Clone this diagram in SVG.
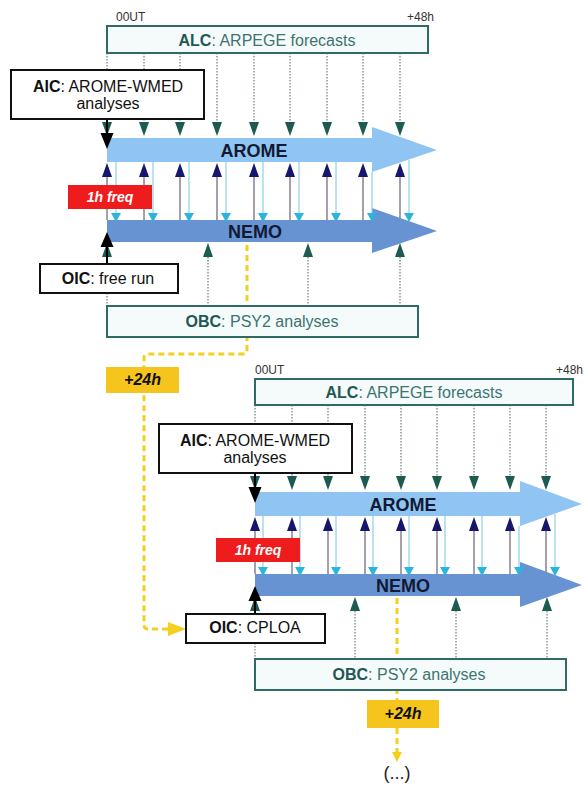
<svg xmlns="http://www.w3.org/2000/svg" width="584" height="787" viewBox="0 0 584 787">
<style>
text{font-family:"Liberation Sans",Arial,Helvetica,sans-serif}
.bt{fill:#f5fbfa;stroke:#2f6a64;stroke-width:2}
.bb{fill:#fff;stroke:#111;stroke-width:2}
.t16{font-size:16px}
.tt{fill:#3b7470}
.tb{font-weight:bold}
.tk{fill:#111}
.big{font-size:18px;font-weight:bold;fill:#111a33;text-anchor:middle}
.arome{fill:#90c4f2}
.nemo{fill:#6893d2}
.dot{stroke:#4b6460;stroke-width:1;stroke-dasharray:1.5 1.5;fill:none}
.gray{stroke:#6d6276;stroke-width:1.2;fill:none}
.cy{stroke:#8ccfea;stroke-width:1.2;fill:none}
.teal{fill:#1d5a50}
.navy{fill:#16166e}
.cyan{fill:#2bb4de}
.blk{fill:#000}
.bl{stroke:#000;stroke-width:2;fill:none}
.yel{stroke:#f3cf1f;stroke-width:3;stroke-dasharray:6 4;fill:none}
.yfill{fill:#f3cf1f}
.red{fill:#ee1c1c}
.ybox{fill:#f6c51d}
.small{font-size:12px;fill:#333}
.freq{font-size:14px;font-weight:bold;font-style:italic;fill:#fff;text-anchor:middle}
.plus{font-size:16px;font-weight:bold;font-style:italic;fill:#111;text-anchor:middle}
</style>
<defs>
<path id="hd" d="M-5,-14L5,-14L0,0Z"/>
<path id="hu" d="M-5,14L5,14L0,0Z"/>
<path id="hc" d="M-5,-9L5,-9L0,0Z"/>
</defs>

<!-- ===== Section 1 ===== -->
<g id="section1">
<g id="arome1"><path class="arome" d="M107,138H372V127L437,150L372,172V162H107Z"/><text class="big" x="254" y="157">AROME</text></g>
<g id="nemo1"><path class="nemo" d="M107,220H372V208L437,231L372,253V242H107Z"/><text class="big" x="255" y="238">NEMO</text></g>
<g id="alc1"><rect class="bt" x="107" y="26" width="321" height="27"/><text class="t16 tt" x="267" y="46" text-anchor="middle"><tspan class="tb" fill="#1f5853">ALC</tspan>: ARPEGE forecasts</text></g>

<g id="connectors1">
<path class="dot" d="M107,53V122M144,53V122M180,53V122M217,53V122M254,53V122M290,53V122M327,53V122M363,53V122M400,53V122"/>
<g class="teal"><use href="#hd" x="107" y="136"/><use href="#hd" x="144" y="136"/><use href="#hd" x="180" y="136"/><use href="#hd" x="217" y="136"/><use href="#hd" x="254" y="136"/><use href="#hd" x="290" y="136"/><use href="#hd" x="327" y="136"/><use href="#hd" x="363" y="136"/><use href="#hd" x="400" y="136"/></g>
<path class="gray" d="M107,177V220M144,177V220M180,177V220M217,177V220M254,177V220M290,177V220M327,177V220M363,177V220M400,177V218"/>
<path class="cy" d="M116,162V213M153,162V213M189,162V213M226,162V213M263,162V213M299,162V213M336,162V213M372,172V213M409,160V213"/>
<g class="navy"><use href="#hu" x="107" y="163"/><use href="#hu" x="144" y="163"/><use href="#hu" x="180" y="163"/><use href="#hu" x="217" y="163"/><use href="#hu" x="254" y="163"/><use href="#hu" x="290" y="163"/><use href="#hu" x="327" y="163"/><use href="#hu" x="363" y="163"/><use href="#hu" x="400" y="163"/></g>
<g class="cyan"><use href="#hc" x="116" y="222"/><use href="#hc" x="153" y="222"/><use href="#hc" x="189" y="222"/><use href="#hc" x="226" y="222"/><use href="#hc" x="263" y="222"/><use href="#hc" x="299" y="222"/><use href="#hc" x="336" y="222"/><use href="#hc" x="372" y="222"/><use href="#hc" x="409" y="222"/></g>
<path class="dot" d="M208,257V306M308,257V306M400,257V306M107,293V306"/>
<g class="teal"><use href="#hu" x="107" y="243"/><use href="#hu" x="208" y="243"/><use href="#hu" x="308" y="243"/><use href="#hu" x="400" y="243"/></g>
<path class="bl" d="M107,119V134M107,264V246"/>
<path class="blk" d="M100.5,133L113.5,133L107,149ZM100.5,247L113.5,247L107,232Z"/>
<path class="yel" d="M247,245V350Q247,354 243,354H148Q144,354 144,358V625Q144,629 148,629H168"/>
<path class="yfill" d="M168,622L186,629L168,636Z"/>
</g>

<g id="aic1"><rect class="bb" x="11" y="70" width="193" height="49"/><text class="t16 tk" x="108" y="92" text-anchor="middle"><tspan class="tb">AIC</tspan>: AROME-WMED</text><text class="t16 tk" x="108" y="109" text-anchor="middle">analyses</text></g>
<g id="freq1"><rect class="red" x="68" y="185" width="84" height="24"/><text class="freq" x="110" y="202">1h freq</text></g>
<g id="oic1"><rect class="bb" x="40" y="264" width="138" height="29"/><text class="t16 tk" x="108" y="284" text-anchor="middle"><tspan class="tb">OIC</tspan>: free run</text></g>
<g id="obc1"><rect class="bt" x="107" y="306" width="311" height="31"/><text class="t16 tt" x="262" y="327" text-anchor="middle"><tspan class="tb" fill="#1f5853">OBC</tspan>: PSY2 analyses</text></g>
<g id="delay1"><rect class="ybox" x="106" y="367" width="73" height="26"/><text class="plus" x="142.5" y="385">+24h</text></g>
<g id="t00a"><text class="small" x="116" y="21">00UT</text></g>
<g id="t48a"><text class="small" x="434" y="21" text-anchor="end">+48h</text></g>
</g>

<!-- ===== Section 2 ===== -->
<g id="section2" transform="translate(148,354)">
<g id="arome2"><path class="arome" d="M107,138H372V127L434,150L372,172V162H107Z"/><text class="big" x="255" y="157">AROME</text></g>
<g id="nemo2"><path class="nemo" d="M107,220H372V208L434,231L372,253V242H107Z"/><text class="big" x="255" y="238">NEMO</text></g>
<g id="alc2"><rect class="bt" x="107" y="25" width="318" height="26"/><text class="t16 tt" x="266" y="44" text-anchor="middle"><tspan class="tb" fill="#1f5853">ALC</tspan>: ARPEGE forecasts</text></g>

<g id="connectors2">
<path class="dot" d="M107,51V122M144,51V122M180,51V122M217,51V122M253,51V122M289,51V122M326,51V122M362,51V122M398,51V122"/>
<g class="teal"><use href="#hd" x="107" y="136"/><use href="#hd" x="144" y="136"/><use href="#hd" x="180" y="136"/><use href="#hd" x="217" y="136"/><use href="#hd" x="253" y="136"/><use href="#hd" x="289" y="136"/><use href="#hd" x="326" y="136"/><use href="#hd" x="362" y="136"/><use href="#hd" x="398" y="136"/></g>
<path class="gray" d="M107,177V220M144,177V220M180,177V220M217,177V220M253,177V220M289,177V220M326,177V220M362,177V220M398,177V218"/>
<path class="cy" d="M115,162V213M152,162V213M188,162V213M225,162V213M261,162V213M297,162V213M334,162V213M371,172V213M407,160V213"/>
<g class="navy"><use href="#hu" x="107" y="163"/><use href="#hu" x="144" y="163"/><use href="#hu" x="180" y="163"/><use href="#hu" x="217" y="163"/><use href="#hu" x="253" y="163"/><use href="#hu" x="289" y="163"/><use href="#hu" x="326" y="163"/><use href="#hu" x="362" y="163"/><use href="#hu" x="398" y="163"/></g>
<g class="cyan"><use href="#hc" x="115" y="222"/><use href="#hc" x="152" y="222"/><use href="#hc" x="188" y="222"/><use href="#hc" x="225" y="222"/><use href="#hc" x="261" y="222"/><use href="#hc" x="297" y="222"/><use href="#hc" x="334" y="222"/><use href="#hc" x="371" y="222"/><use href="#hc" x="407" y="222"/></g>
<path class="dot" d="M207,257V306M308,257V306M399,257V306M107,289V306"/>
<g class="teal"><use href="#hu" x="107" y="243"/><use href="#hu" x="207" y="243"/><use href="#hu" x="308" y="243"/><use href="#hu" x="399" y="243"/></g>
<path class="bl" d="M107,119V134M107,260V246"/>
<path class="blk" d="M100.5,133L113.5,133L107,149ZM100.5,247L113.5,247L107,232Z"/>
<path class="yel" d="M249,244V398"/>
<path class="yfill" d="M244,398L254,398L249,408Z"/>
</g>

<g id="aic2"><rect class="bb" x="11" y="70" width="193" height="49"/><text class="t16 tk" x="107" y="92" text-anchor="middle"><tspan class="tb">AIC</tspan>: AROME-WMED</text><text class="t16 tk" x="107" y="109" text-anchor="middle">analyses</text></g>
<g id="freq2"><rect class="red" x="68" y="184" width="84" height="24"/><text class="freq" x="110" y="201">1h freq</text></g>
<g id="oic2"><rect class="bb" x="38" y="260" width="139" height="29"/><text class="t16 tk" x="107" y="279" text-anchor="middle"><tspan class="tb">OIC</tspan>: CPLOA</text></g>
<g id="obc2"><rect class="bt" x="107" y="305" width="311" height="31"/><text class="t16 tt" x="261" y="326" text-anchor="middle"><tspan class="tb" fill="#1f5853">OBC</tspan>: PSY2 analyses</text></g>
<g id="delay2"><rect class="ybox" x="219" y="346" width="72" height="28"/><text class="plus" x="255" y="365">+24h</text></g>
<g id="t00b"><text class="small" x="107" y="20">00UT</text></g>
<g id="t48b"><text class="small" x="435" y="20" text-anchor="end">+48h</text></g>
</g>

<g id="ellipsis"><text x="397" y="779" font-size="18" fill="#222" text-anchor="middle">(...)</text></g>
</svg>
